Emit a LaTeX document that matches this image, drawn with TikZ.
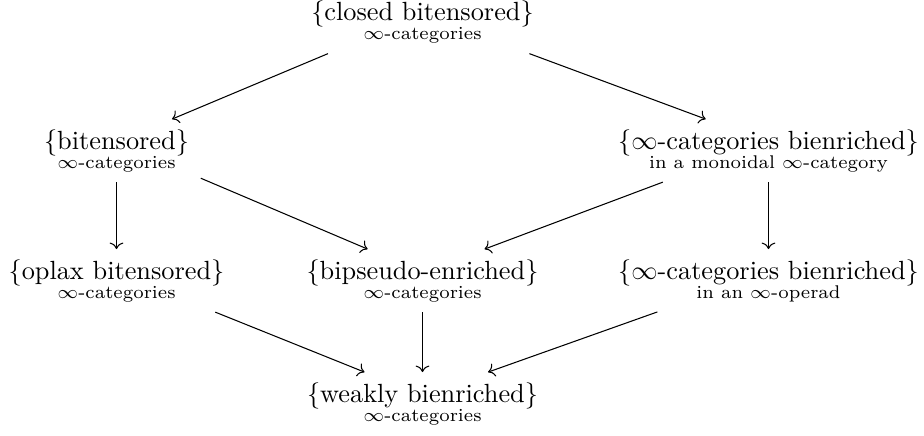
\documentclass[tikz,border=0pt]{standalone}
\usetikzlibrary{cd}
\newcommand{\twoline}[2]{\vtop{\halign{\hfil##\hfil\cr #1\cr\noalign{\vskip-4.7pt}\scriptsize #2\cr}}}
\begin{document}
\begin{tikzpicture}[x=0.3802pt,y=-0.3802pt,
  cell/.style={shape=asymmetrical rectangle, inner xsep=1ex, inner ysep=0.85ex, anchor=base},
  arr/.style={-{cm to}, line width=0.4pt}]
\useasboundingbox (0,0) rectangle (924,436);
\node[cell] (top) at (422.5,20.5) {\twoline{\{closed bitensored\}}{$\infty$-categories}};
\node[cell] (bit) at (116.5,149) {\twoline{\{bitensored\}}{$\infty$-categories}};
\node[cell] (mon) at (768.5,149) {\twoline{\{$\infty$-categories bienriched\}}{in a monoidal $\infty$-category}};
\node[cell] (opl) at (116.5,279) {\twoline{\{oplax bitensored\}}{$\infty$-categories}};
\node[cell] (bps) at (422.5,279) {\twoline{\{bipseudo-enriched\}}{$\infty$-categories}};
\node[cell] (opd) at (768.5,279) {\twoline{\{$\infty$-categories bienriched\}}{in an $\infty$-operad}};
\node[cell] (wk) at (422.5,402) {\twoline{\{weakly bienriched\}}{$\infty$-categories}};
\draw[arr] (top) -- (bit);
\draw[arr] (top) -- (mon);
\draw[arr] (bit) -- (opl);
\draw[arr] (bit) -- (bps);
\draw[arr] (mon) -- (bps);
\draw[arr] (mon) -- (opd);
\draw[arr] (opl) -- (wk);
\draw[arr] (bps) -- (wk);
\draw[arr] (opd) -- (wk);
\end{tikzpicture}
\end{document}
